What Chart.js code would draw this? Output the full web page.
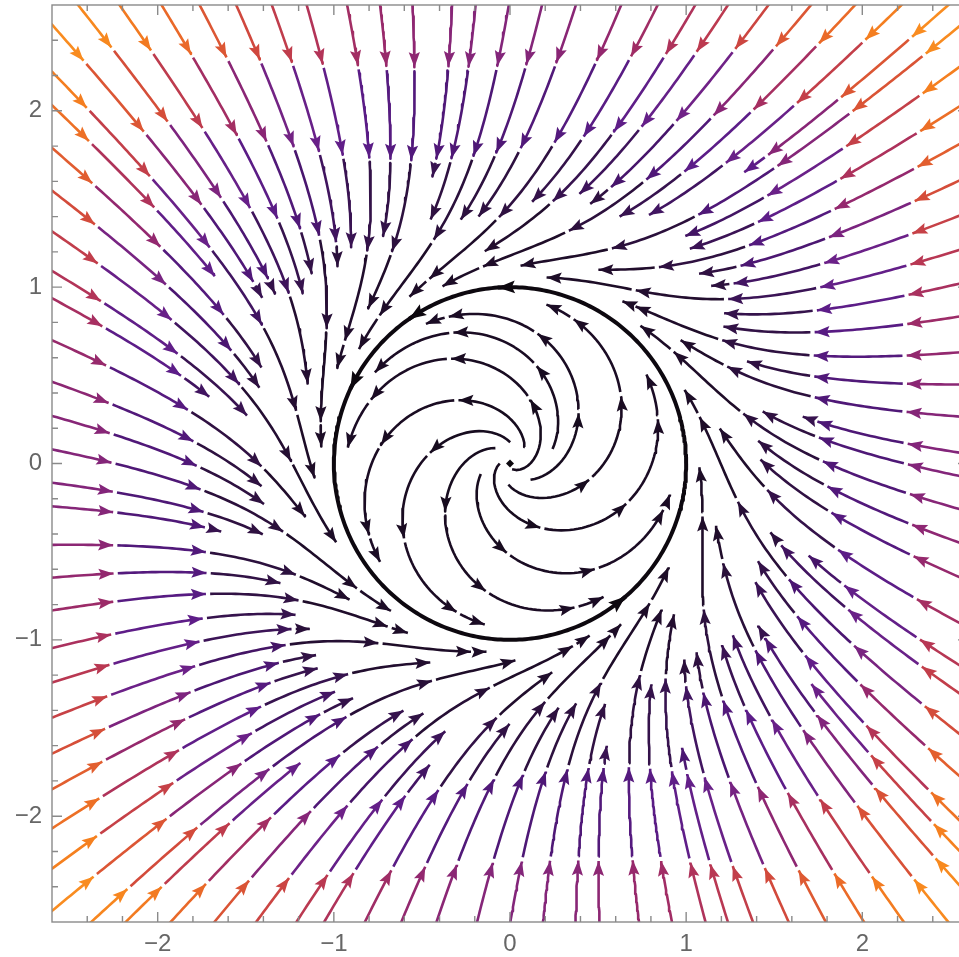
<!DOCTYPE html>
<html>
<head>
<meta charset="utf-8">
<script src="https://cdn.jsdelivr.net/npm/chart.js@4"></script>
<style>
  html, body { margin: 0; padding: 0; background: #fff; overflow: hidden; }
  canvas { display: block; }
</style>
</head>
<body>
<canvas id="c" width="976" height="957"></canvas>
<script>
// ---- chart values ----
const xTickLabels = [-2, -1, 0, 1, 2];
const yTickLabels = [-2, -1, 0, 1, 2];
const plotRange = [-2.6, 2.6];
// field x' = x(R^2 - r^2)*growth - spin*y ,  y' = y(R^2 - r^2)*growth + spin*x
const growth = 1;
const spin = 1;
const cycleRadius = 1;
// equilibrium point and arrow marks on the limit cycle (degrees)
const equilibria = [[0, 0]];
const cycleArrowAngles = [94, 125, 155, -49];
// seed points that start the stream layout
const seedPoints = [[-2.7, 0.1], [0.15, 0.05], [2.7, -0.3]];
// colour scale by relative speed
const speedStops = [0, 0.03, 0.07, 0.12, 0.18, 0.25, 0.32, 0.40, 0.50, 0.62, 0.78, 1.0];
const colorStops = ['#140b1a', '#1f0d2a', '#321246', '#4a1670', '#5c1d88', '#6e2288', '#93286f', '#b53556', '#d24a3c', '#e8662a', '#f5801f', '#fb9420'];

// ---- stream layout settings ----
const BOX = 2.75;      // integration box (slightly larger than view)
const H = 0.008;       // integration step
const DSEP = 0.195;    // stream separation
const DTEST = 0.075;   // stop distance
const SEG = 0.5;       // arrow piece length
const GAP = 0.016;     // gap between pieces
const MINLEN = 0.14;

function field(x, y) {
  const g = growth * (cycleRadius * cycleRadius - (x * x + y * y));
  return [g * x - spin * y, g * y + spin * x];
}
function unitDir(x, y, s) {
  const f = field(x, y);
  const m = Math.hypot(f[0], f[1]);
  if (m < 1e-9) return null;
  return [s * f[0] / m, s * f[1] / m];
}
function rk4(p, h, s) {
  const k1 = unitDir(p[0], p[1], s); if (!k1) return null;
  const k2 = unitDir(p[0] + h / 2 * k1[0], p[1] + h / 2 * k1[1], s); if (!k2) return null;
  const k3 = unitDir(p[0] + h / 2 * k2[0], p[1] + h / 2 * k2[1], s); if (!k3) return null;
  const k4 = unitDir(p[0] + h * k3[0], p[1] + h * k3[1], s); if (!k4) return null;
  return [p[0] + h / 6 * (k1[0] + 2 * k2[0] + 2 * k3[0] + k4[0]),
          p[1] + h / 6 * (k1[1] + 2 * k2[1] + 2 * k3[1] + k4[1])];
}

// spatial hash of accepted stream points
const CELL = DSEP;
const grid = new Map();
function key(i, j) { return i * 4096 + j; }
function cellOf(v) { return Math.floor((v + BOX + 1) / CELL); }
function addPts(pts) {
  for (const p of pts) {
    const k = key(cellOf(p[0]), cellOf(p[1]));
    if (!grid.has(k)) grid.set(k, []);
    grid.get(k).push(p);
  }
}
function near(x, y, d) {
  const ci = cellOf(x), cj = cellOf(y);
  const d2 = d * d;
  for (let i = ci - 1; i <= ci + 1; i++) for (let j = cj - 1; j <= cj + 1; j++) {
    const arr = grid.get(key(i, j));
    if (!arr) continue;
    for (const p of arr) {
      const dx = p[0] - x, dy = p[1] - y;
      if (dx * dx + dy * dy < d2) return true;
    }
  }
  return false;
}
function trace(seed, s) {
  const pts = [seed];
  let p = seed;
  for (let k = 0; k < 3000; k++) {
    const q = rk4(p, H, s);
    if (!q) break;
    if (Math.abs(q[0]) > BOX || Math.abs(q[1]) > BOX) { pts.push(q); break; }
    if (Math.hypot(q[0], q[1]) < 0.03) break;
    if (near(q[0], q[1], DTEST)) break;
    pts.push(q);
    p = q;
  }
  return pts;
}
function arcLen(pts) {
  let L = 0;
  for (let i = 1; i < pts.length; i++) L += Math.hypot(pts[i][0] - pts[i - 1][0], pts[i][1] - pts[i - 1][1]);
  return L;
}

const streams = [];
let queue = [];
function accept(pts) { streams.push(pts); addPts(pts); queue.push(pts); }

// limit cycle
const cyclePts = [];
for (let a = 0; a <= 360; a += 1) {
  const t = a * Math.PI / 180;
  cyclePts.push([cycleRadius * Math.cos(t), cycleRadius * Math.sin(t)]);
}
addPts(cyclePts);
queue.push(cyclePts);

function tryCandidate(c, clear) {
  if (Math.abs(c[0]) > BOX || Math.abs(c[1]) > BOX) return;
  if (near(c[0], c[1], clear)) return;
  if (Math.hypot(c[0], c[1]) < 0.04) return;
  const b = trace(c, -1);
  const f = trace(c, 1);
  const pts = b.reverse().concat(f.slice(1));
  if (arcLen(pts) < MINLEN) return;
  accept(pts);
}
function spread(offsets, clear) {
  while (queue.length) {
    const s = queue.shift();
    for (let k = 0; k < s.length - 1; k += 4) {
      const p = s[k], q = s[k + 1];
      const tx = q[0] - p[0], ty = q[1] - p[1];
      const m = Math.hypot(tx, ty);
      if (m < 1e-12) continue;
      const nx = -ty / m, ny = tx / m;
      for (const o of offsets) {
        tryCandidate([p[0] + o * nx, p[1] + o * ny], clear);
        tryCandidate([p[0] - o * nx, p[1] - o * ny], clear);
      }
    }
  }
}
for (const s of seedPoints) tryCandidate(s, DSEP * 0.95);
spread([DSEP], DSEP * 0.95);
// second pass fills the wider gaps where streams fan out
queue = [cyclePts].concat(streams.slice());
spread([DSEP * 0.72, DSEP * 0.86], DSEP * 0.68);

// ---- colours ----
const maxSpeed = Math.hypot(...field(plotRange[1], plotRange[1]));
function hexToRgb(h) { return [parseInt(h.slice(1, 3), 16), parseInt(h.slice(3, 5), 16), parseInt(h.slice(5, 7), 16)]; }
const rgbStops = colorStops.map(hexToRgb);
function speedColor(x, y) {
  const sp = Math.min(1, Math.hypot(...field(x, y)) / maxSpeed);
  let i = 0;
  while (i < speedStops.length - 2 && sp > speedStops[i + 1]) i++;
  const t = Math.max(0, Math.min(1, (sp - speedStops[i]) / (speedStops[i + 1] - speedStops[i])));
  const a = rgbStops[i], b = rgbStops[i + 1];
  return 'rgb(' + Math.round(a[0] + (b[0] - a[0]) * t) + ',' + Math.round(a[1] + (b[1] - a[1]) * t) + ',' + Math.round(a[2] + (b[2] - a[2]) * t) + ')';
}

// ---- split streams into arrow pieces ----
function split(pts) {
  const pieces = [];
  let cur = [pts[0]], acc = 0, inGap = false, gapAcc = 0;
  for (let i = 1; i < pts.length; i++) {
    const d = Math.hypot(pts[i][0] - pts[i - 1][0], pts[i][1] - pts[i - 1][1]);
    if (inGap) {
      gapAcc += d;
      if (gapAcc >= GAP) { inGap = false; cur = [pts[i]]; acc = 0; }
      continue;
    }
    cur.push(pts[i]); acc += d;
    if (acc >= SEG) { pieces.push(cur); inGap = true; gapAcc = 0; cur = null; }
  }
  if (!inGap && cur && cur.length > 2 && acc > 0.05) pieces.push(cur);
  return pieces;
}
function thin(piece) {
  const out = [];
  for (let i = 0; i < piece.length - 2; i += 3) out.push(piece[i]);
  out.push(piece[piece.length - 2], piece[piece.length - 1]);
  return out.map(p => ({ x: p[0], y: p[1] }));
}

const datasets = [];
for (const s of streams) {
  for (const piece of split(s)) {
    const mid = piece[Math.floor(piece.length / 2)];
    datasets.push({
      data: thin(piece), showLine: true, borderColor: speedColor(mid[0], mid[1]),
      borderWidth: 2.6, pointRadius: 0, arrow: true
    });
  }
}
// limit cycle, drawn thick
datasets.push({ data: cyclePts.map(p => ({ x: p[0], y: p[1] })), showLine: true, borderColor: '#0d080f', borderWidth: 4, pointRadius: 0 });
for (const a of cycleArrowAngles) {
  const t = a * Math.PI / 180, t0 = t - 0.06;
  datasets.push({
    data: [{ x: cycleRadius * Math.cos(t0), y: cycleRadius * Math.sin(t0) }, { x: cycleRadius * Math.cos(t), y: cycleRadius * Math.sin(t) }],
    showLine: true, borderColor: '#0d080f', borderWidth: 4, pointRadius: 0, arrow: true, arrowScale: 1.15
  });
}
datasets.push({
  data: equilibria.map(p => ({ x: p[0], y: p[1] })), showLine: false,
  pointStyle: 'rectRot', pointRadius: 4, backgroundColor: '#0d080f', borderColor: '#0d080f', borderWidth: 0
});

// ---- plugins ----
const arrowPlugin = {
  id: 'arrows',
  afterDatasetsDraw(chart) {
    const ctx = chart.ctx, ca = chart.chartArea;
    ctx.save();
    ctx.beginPath();
    ctx.rect(ca.left, ca.top, ca.right - ca.left, ca.bottom - ca.top);
    ctx.clip();
    chart.data.datasets.forEach((ds, i) => {
      if (!ds.arrow) return;
      const el = chart.getDatasetMeta(i).data;
      const n = el.length;
      if (n < 2) return;
      const tip = el[n - 1], back = el[Math.max(0, n - 3)];
      const ang = Math.atan2(tip.y - back.y, tip.x - back.x);
      const sc = ds.arrowScale || 1;
      const L = 15 * sc, W = 5.6 * sc;
      ctx.save();
      ctx.translate(tip.x, tip.y);
      ctx.rotate(ang);
      ctx.beginPath();
      ctx.moveTo(0, 0);
      ctx.lineTo(-L, W);
      ctx.lineTo(-L * 0.82, 0);
      ctx.lineTo(-L, -W);
      ctx.closePath();
      ctx.fillStyle = ds.borderColor;
      ctx.fill();
      ctx.restore();
    });
    ctx.restore();
  }
};

const framePlugin = {
  id: 'frame',
  afterDraw(chart) {
    const ctx = chart.ctx, ca = chart.chartArea;
    const xs = chart.scales.x, ys = chart.scales.y;
    ctx.save();
    ctx.strokeStyle = '#8a8a8a';
    ctx.lineWidth = 1.4;
    ctx.strokeRect(ca.left, ca.top, ca.right - ca.left, ca.bottom - ca.top);
    ctx.beginPath();
    for (let k = -12; k <= 12; k++) {
      const v = k / 5;
      const major = k % 5 === 0;
      const len = major ? 10 : 6;
      const px = xs.getPixelForValue(v), py = ys.getPixelForValue(v);
      ctx.moveTo(px, ca.bottom); ctx.lineTo(px, ca.bottom - len);
      ctx.moveTo(px, ca.top); ctx.lineTo(px, ca.top + len);
      ctx.moveTo(ca.left, py); ctx.lineTo(ca.left + len, py);
      ctx.moveTo(ca.right, py); ctx.lineTo(ca.right - len, py);
    }
    ctx.stroke();
    ctx.restore();
  }
};

const fmt = v => (v < 0 ? '\u2212' + Math.abs(v) : String(v));
const tickFont = { family: "'Liberation Sans', Arial, sans-serif", size: 24 };
const noPad = s => { s.paddingTop = 0; s.paddingBottom = 0; s.paddingLeft = 0; s.paddingRight = 0; };

new Chart(document.getElementById('c'), {
  type: 'scatter',
  data: { datasets },
  options: {
    responsive: false,
    animation: false,
    events: [],
    layout: { padding: { top: 5, right: 8, left: 0, bottom: 0 } },
    plugins: { legend: { display: false }, tooltip: { enabled: false } },
    elements: { line: { tension: 0, borderCapStyle: 'butt', borderJoinStyle: 'round', fill: false } },
    scales: {
      x: {
        type: 'linear', min: plotRange[0], max: plotRange[1],
        grid: { display: false, drawTicks: false }, border: { display: false },
        afterBuildTicks: s => { s.ticks = xTickLabels.map(v => ({ value: v })); },
        afterFit: s => { s.height = 35; noPad(s); },
        ticks: { font: tickFont, color: '#666', padding: 8, autoSkip: false, maxRotation: 0, callback: fmt }
      },
      y: {
        type: 'linear', min: plotRange[0], max: plotRange[1],
        grid: { display: false, drawTicks: false }, border: { display: false },
        afterBuildTicks: s => { s.ticks = yTickLabels.map(v => ({ value: v })); },
        afterFit: s => { s.width = 52; noPad(s); },
        ticks: { font: tickFont, color: '#666', padding: 10, autoSkip: false, callback: fmt }
      }
    }
  },
  plugins: [arrowPlugin, framePlugin]
});
</script>
</body>
</html>
